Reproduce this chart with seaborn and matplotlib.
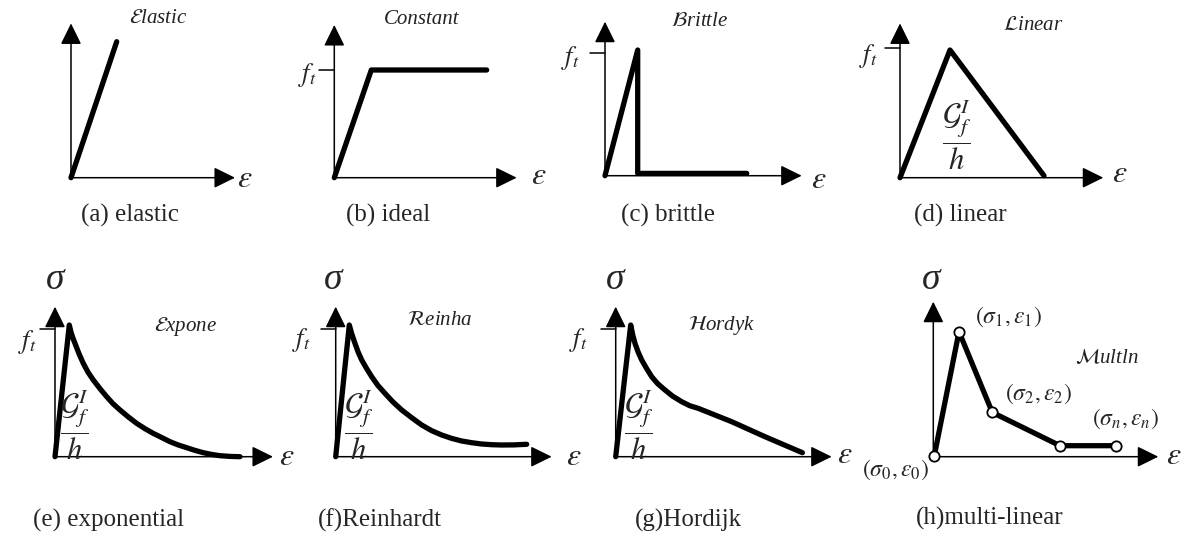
import matplotlib
matplotlib.use("Agg")
import matplotlib.pyplot as plt
import seaborn as sns
import pandas as pd

# ---------------- data (strain / stress in schematic units) ----------------
a_strain = [0, 0.457]
a_stress = [0, 1.36]
b_strain = [0, 0.37, 1.524]
b_stress = [0, 1.077, 1.077]
c_strain = [0, 0.327, 0.327, 1.417]
c_stress = [0, 1.257, 0.023, 0.023]
d_strain = [0, 0.5, 1.44]
d_stress = [0, 1.277, 0.02]
e_strain = [0, 0.143, 0.16, 0.18, 0.20, 0.24, 0.283, 0.33, 0.383, 0.45, 0.517, 0.58, 0.65,
            0.73, 0.817, 0.90, 0.983, 1.07, 1.15, 1.23, 1.317, 1.40, 1.483, 1.57, 1.65, 1.75, 1.85]
e_stress = [0, 1.317, 1.245, 1.185, 1.133, 1.03, 0.933, 0.845, 0.767, 0.68, 0.60, 0.53, 0.467,
            0.40, 0.333, 0.28, 0.233, 0.19, 0.15, 0.118, 0.09, 0.063, 0.04, 0.022, 0.01, 0.003, 0.0]
f_strain = [0, 0.136, 0.16, 0.193, 0.225, 0.26, 0.31, 0.36, 0.42, 0.493, 0.57, 0.66, 0.76,
            0.86, 0.96, 1.06, 1.16, 1.26, 1.36, 1.46, 1.56, 1.66, 1.78, 1.91]
f_stress = [0, 1.317, 1.23, 1.133, 1.045, 0.967, 0.88, 0.80, 0.715, 0.633, 0.55, 0.467, 0.39,
            0.317, 0.26, 0.217, 0.183, 0.157, 0.14, 0.127, 0.12, 0.117, 0.118, 0.124]
g_strain = [0, 0.15, 0.17, 0.193, 0.225, 0.26, 0.31, 0.36, 0.42, 0.493, 0.57, 0.66, 0.74,
            0.827, 1.16, 1.493, 1.867]
g_stress = [0, 1.317, 1.22, 1.133, 1.045, 0.967, 0.88, 0.80, 0.73, 0.667, 0.605, 0.55, 0.51,
            0.483, 0.35, 0.20, 0.04]
h_strain = [0.01, 0.257, 0.59, 1.267, 1.827]
h_stress = [0.01, 1.25, 0.443, 0.11, 0.11]

ft_levels = {"b": 1.077, "c": 1.223, "d": 1.293, "e": 1.273, "f": 1.273, "g": 1.273}

captions = ["(a) elastic", "(b) ideal", "(c) brittle", "(d) linear",
            "(e) exponential", "(f)Reinhardt", "(g)Hordijk", "(h)multi-linear"]
titles = [r"$\mathcal{E}$lastic", "Constant", r"$\mathcal{B}$rittle", r"$\mathcal{L}$inear",
          r"$\mathcal{E}$xpone", r"$\mathcal{R}$einha", r"$\mathcal{H}$ordyk", r"$\mathcal{M}$ultln"]
h_point_labels = [r"$(\sigma_\mathit{0},\varepsilon_\mathit{0})$", r"$(\sigma_\mathit{1},\varepsilon_\mathit{1})$",
                  r"$(\sigma_\mathit{2},\varepsilon_\mathit{2})$", r"$(\sigma_n,\varepsilon_n)$"]

# ---------------- style ----------------
sns.set_theme(style="white")
plt.rcParams["font.family"] = ["Liberation Serif", "DejaVu Serif"]
plt.rcParams["mathtext.fontset"] = "stix"

W, H = 1191, 535
fig = plt.figure(figsize=(W / 100, H / 100), dpi=100)
fig.patch.set_facecolor("white")

THICK = 3.8
THIN = 1.1


def panel(ox, oy):
    ax = fig.add_axes([(ox - 60) / W, (H - (oy + 80)) / H, 320 / W, 300 / H])
    ax.set_xlim(-0.6, 2.6)
    ax.set_ylim(-0.8, 2.2)
    ax.axis("off")
    ax.patch.set_alpha(0)
    return ax


def axes_arrows(ax, xtip, ytop):
    style = "-|>,head_length=0.65,head_width=0.32"
    for tip in [(xtip, 0), (0, ytop)]:
        ax.annotate("", xy=tip, xytext=(0, 0),
                    arrowprops=dict(arrowstyle=style, mutation_scale=20, lw=THIN,
                                    color="black", shrinkA=0, shrinkB=0))


def curve(ax, xs, ys):
    df = pd.DataFrame({"strain": xs, "stress": ys})
    sns.lineplot(data=df, x="strain", y="stress", sort=False, estimator=None,
                 color="black", lw=THICK, ax=ax, solid_joinstyle="round",
                 solid_capstyle="round")
    ax.set_xlim(-0.6, 2.6)
    ax.set_ylim(-0.8, 2.2)
    ax.axis("off")


def ft_tick(ax, level, lx, ly):
    ax.plot([-0.15, 0], [level, level], color="black", lw=THIN)
    ax.text(lx, ly, r"$f_t$", fontsize=19, ha="center", va="center")


def eps(ax, x, y):
    ax.text(x, y, r"$\varepsilon$", fontsize=23, ha="center", va="center")


def sigma(ax, x, y):
    ax.text(x, y, "σ", fontsize=27, fontstyle="italic", ha="center", va="center")


def gfrac(ax, x, y):
    ax.text(x, y, r"$\dfrac{\mathcal{G}_f^I}{h}$", fontsize=22, ha="center", va="center")


def title(ax, x, y, s):
    ax.text(x, y, s, fontsize=15, fontstyle="italic", ha="center", va="center", color="#222222")


def caption(ax, x, y, s):
    ax.text(x, y, s, fontsize=18, ha="center", va="center")


# (a) elastic
ax = panel(71, 177.7)
axes_arrows(ax, 1.64, 1.543)
curve(ax, a_strain, a_stress)
eps(ax, 1.74, -0.02)
title(ax, 0.873, 1.593, titles[0])
caption(ax, 0.59, -0.373, captions[0])

# (b) ideal
ax = panel(334.3, 177.7)
axes_arrows(ax, 1.824, 1.527)
curve(ax, b_strain, b_stress)
ft_tick(ax, ft_levels["b"], -0.27, 1.03)
eps(ax, 2.04, 0.01)
title(ax, 0.874, 1.577, titles[1])
caption(ax, 0.54, -0.373, captions[1])

# (c) brittle
ax = panel(605, 175.7)
axes_arrows(ax, 1.967, 1.54)
curve(ax, c_strain, c_stress)
ft_tick(ax, ft_levels["c"], -0.35, 1.18)
eps(ax, 2.133, -0.043)
title(ax, 0.95, 1.54, titles[2])
caption(ax, 0.633, -0.393, captions[2])

# (d) linear
ax = panel(900, 177.7)
axes_arrows(ax, 2.033, 1.543)
curve(ax, d_strain, d_stress)
ft_tick(ax, ft_levels["d"], -0.32, 1.22)
eps(ax, 2.2, 0.03)
gfrac(ax, 0.567, 0.427)
title(ax, 1.33, 1.527, titles[3])
caption(ax, 0.6, -0.373, captions[3])

# (e) exponential
ax = panel(55, 456.7)
axes_arrows(ax, 2.18, 1.50)
curve(ax, e_strain, e_stress)
ft_tick(ax, ft_levels["e"], -0.28, 1.147)
sigma(ax, 0.0, 1.767)
eps(ax, 2.317, -0.01)
gfrac(ax, 0.20, 0.317)
title(ax, 1.30, 1.30, titles[4])
caption(ax, 0.54, -0.633, captions[4])

# (f) Reinhardt
ax = panel(335.7, 456.7)
axes_arrows(ax, 2.16, 1.50)
curve(ax, f_strain, f_stress)
ft_tick(ax, ft_levels["f"], -0.34, 1.167)
sigma(ax, -0.023, 1.767)
eps(ax, 2.377, -0.01)
gfrac(ax, 0.227, 0.317)
title(ax, 1.043, 1.367, titles[5])
caption(ax, 0.443, -0.633, captions[5])

# (g) Hordijk
ax = panel(615.7, 456.7)
axes_arrows(ax, 2.16, 1.50)
curve(ax, g_strain, g_stress)
ft_tick(ax, ft_levels["g"], -0.37, 1.167)
sigma(ax, -0.007, 1.767)
eps(ax, 2.293, 0.01)
gfrac(ax, 0.227, 0.317)
title(ax, 1.06, 1.317, titles[6])
caption(ax, 0.727, -0.633, captions[6])

# (h) multi-linear
ax = panel(933.3, 456.7)
axes_arrows(ax, 2.25, 1.55)
curve(ax, h_strain, h_stress)
sns.scatterplot(x=h_strain, y=h_stress, s=55, color="white", edgecolor="black",
                linewidth=1.3, ax=ax, zorder=5)
ax.set_xlim(-0.6, 2.6)
ax.set_ylim(-0.8, 2.2)
ax.axis("off")
sigma(ax, -0.017, 1.767)
eps(ax, 2.4, 0.0)
for (x, y), s in zip([(-0.383, -0.133), (0.75, 1.40), (1.05, 0.633), (1.917, 0.383)], h_point_labels):
    ax.text(x, y, s, fontsize=17, ha="center", va="center")
title(ax, 1.733, 0.983, titles[7])
caption(ax, 0.567, -0.617, captions[7])

fig.savefig("out.png", dpi=100, facecolor="white")
